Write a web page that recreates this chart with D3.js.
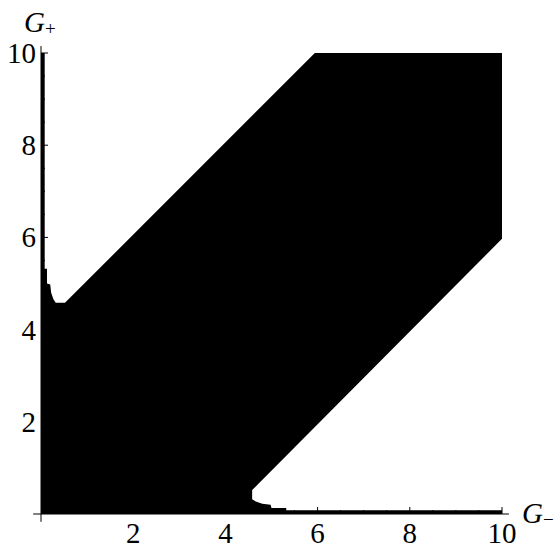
<!DOCTYPE html>
<html>
<head>
<meta charset="utf-8">
<script src="https://cdn.jsdelivr.net/npm/d3@7"></script>
<style>
  body { margin: 0; background: #fff; }
</style>
</head>
<body>
<svg id="chart" width="557" height="548"></svg>
<script>
// region boundary, upper-left part (G-, G+)
const upperEdge = [
  [0, 10], [0.08, 10], [0.08, 5.32], [0.13, 5.32], [0.13, 5.0], [0.2, 4.98],
  [0.22, 4.8], [0.27, 4.66], [0.32, 4.58], [0.52, 4.58], [5.94, 10]
];
// right side corners
const rightEdge = [[10, 10], [10, 5.97]];
// lower-right part
const lowerEdge = [
  [4.58, 0.52], [4.58, 0.32], [4.66, 0.27], [4.8, 0.22], [4.98, 0.2],
  [5.0, 0.13], [5.32, 0.13], [5.32, 0.08], [10, 0.08], [10, 0], [0, 0]
];
const majorTicks = [2, 4, 6, 8, 10];
const minorTicks = [0.5, 1, 1.5, 2.5, 3, 3.5, 4.5, 5, 5.5, 6.5, 7, 7.5, 8.5, 9, 9.5];
const axisExtent = [-0.17, 10.15];

const serif = "Liberation Serif, Times New Roman, serif";
const svg = d3.select("#chart").attr("font-family", serif);
let x = d3.scaleLinear().domain([0, 10]).range([41, 502]);
let y = d3.scaleLinear().domain([0, 10]).range([514, 53]);

let region = upperEdge.concat(rightEdge, lowerEdge);

// black region
svg.append("path")
    .attr("d", d3.line().x(d => x(d[0])).y(d => y(d[1]))(region) + "Z")
    .attr("fill", "black")

// axes lines
svg.append("line")
    .attr("x1", x(axisExtent[0])).attr("x2", x(axisExtent[1]))
    .attr("y1", y(0)).attr("y2", y(0))
    .attr("stroke", "black").attr("stroke-width", 1)
svg.append("line")
    .attr("y1", y(axisExtent[0])).attr("y2", y(axisExtent[1]))
    .attr("x1", x(0)).attr("x2", x(0))
    .attr("stroke", "black").attr("stroke-width", 1)

// ticks on x axis (pointing up)
svg.selectAll(".xmaj").data(majorTicks).join("line")
    .attr("x1", d => x(d)).attr("x2", d => x(d))
    .attr("y1", y(0)).attr("y2", y(0) - 7)
    .attr("stroke", "black")
svg.selectAll(".xmin").data(minorTicks).join("line")
    .attr("x1", d => x(d)).attr("x2", d => x(d))
    .attr("y1", y(0)).attr("y2", y(0) - 4)
    .attr("stroke", "black")
// ticks on y axis (pointing right)
svg.selectAll(".ymaj").data(majorTicks).join("line")
    .attr("y1", d => y(d)).attr("y2", d => y(d))
    .attr("x1", x(0)).attr("x2", x(0) + 7)
    .attr("stroke", "black")
svg.selectAll(".ymin").data(minorTicks).join("line")
    .attr("y1", d => y(d)).attr("y2", d => y(d))
    .attr("x1", x(0)).attr("x2", x(0) + 4)
    .attr("stroke", "black")

// tick labels
svg.selectAll(".xlab").data(majorTicks).join("text")
    .attr("x", d => x(d)).attr("y", 543)
    .attr("text-anchor", "middle")
    .attr("font-size", "29px")
    .text(d => d)
svg.selectAll(".ylab").data(majorTicks).join("text")
    .attr("x", 36).attr("y", d => y(d) + 10)
    .attr("text-anchor", "end")
    .attr("font-size", "29px")
    .text(d => d)

// axis titles
let gp = svg.append("text")
    .attr("x", 24).attr("y", 32).attr("font-size", "29px")
gp.append("tspan").attr("font-style", "italic").text("G")
gp.append("tspan").attr("font-size", "19px").attr("dy", 3).text("+")

let gm = svg.append("text")
    .attr("x", 522).attr("y", 523).attr("font-size", "29px")
gm.append("tspan").attr("font-style", "italic").text("G")
gm.append("tspan").attr("font-size", "19px").attr("dy", 3).text("\u2212")
</script>
</body>
</html>
